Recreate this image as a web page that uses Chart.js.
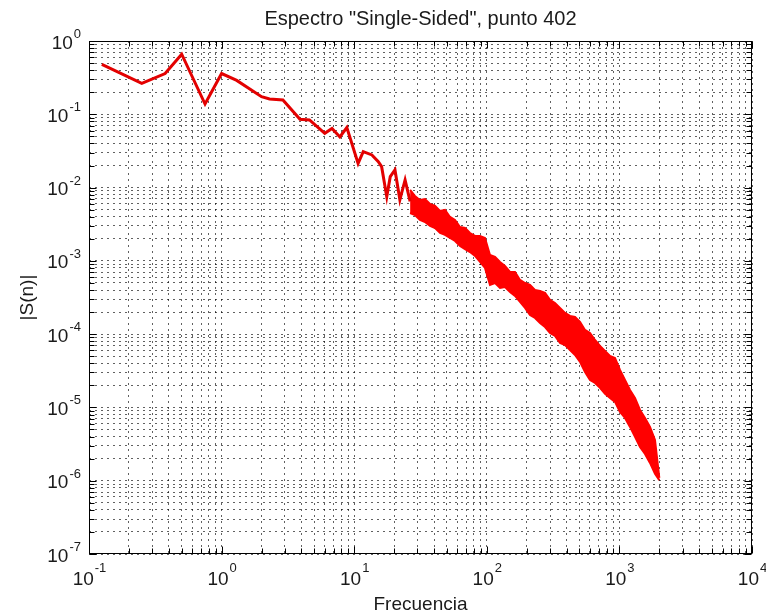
<!DOCTYPE html>
<html lang="es">
<head>
<meta charset="UTF-8">
<title>Espectro Single-Sided, punto 402</title>
<script src="https://cdn.jsdelivr.net/npm/chart.js"></script>
<style>
  html, body { margin: 0; padding: 0; background: #fff; }
  .chart-wrapper { width: 766px; height: 616px; }
</style>
</head>
<body>
<div class="chart-wrapper">
  <canvas id="espectroChart"></canvas>
</div>
<script>
// Tramo de baja frecuencia (línea simple)
const freqLinea = [0.125, 0.25, 0.375, 0.5, 0.75, 1.0, 1.3, 2.0, 2.3, 2.9, 3.9, 4.6, 6.0, 6.8, 7.8, 8.8,
  10.7, 11.7, 13.6, 15.2, 16.1, 17.6, 18.7, 20.3, 22.1, 24.2, 26.4];
const magLinea = [0.48, 0.265, 0.36, 0.66, 0.138, 0.36, 0.29, 0.174, 0.162, 0.157, 0.0855, 0.0836, 0.055, 0.064, 0.049, 0.066,
  0.0214, 0.031, 0.0279, 0.0226, 0.0193, 0.0075, 0.0141, 0.0174, 0.0068, 0.0127, 0.0065];

// Tramo ruidoso: envolvente superior e inferior de la banda
const freqBanda = [26.4, 28.7, 31.3, 34.2, 37.3, 40.7, 44.4, 48.4, 52.8, 57.6, 62.8, 68.5, 74.7, 81.5, 88.9, 96.9,
  105.7, 115.3, 125.8, 137.2, 149.6, 163.2, 178.0, 194.1, 211.7, 230.9, 251.9, 274.7, 299.7, 326.8, 356.5, 388.8,
  424.1, 462.6, 504.6, 550.3, 600.2, 654.6, 714.0, 778.8, 849.4, 926.5, 1010, 1102, 1202, 1311, 1430, 1560, 1701, 1855, 2000];
const bandaSup = [9.27e-3, 7.68e-3, 6.77e-3, 6.99e-3, 5.97e-3, 5.61e-3, 4.79e-3, 4.95e-3, 3.97e-3, 3.61e-3, 2.90e-3, 2.81e-3,
  2.40e-3, 2.19e-3, 2.19e-3, 2.05e-3, 1.20e-3, 1.13e-3, 9.66e-4, 8.52e-4, 7.06e-4, 7.06e-4, 5.49e-4, 4.99e-4, 4.69e-4,
  4.01e-4, 3.88e-4, 3.65e-4, 2.93e-4, 2.66e-4, 2.28e-4, 1.95e-4, 1.77e-4, 1.72e-4, 1.47e-4, 1.14e-4, 1.04e-4, 8.33e-5,
  6.90e-5, 5.90e-5, 5.04e-5, 4.73e-5, 3.25e-5, 2.37e-5, 1.73e-5, 1.35e-5, 9.24e-6, 7.19e-6, 5.42e-6, 3.60e-6, 1.09e-6];
const bandaInf = [4.50e-3, 4.23e-3, 3.61e-3, 3.39e-3, 2.99e-3, 2.81e-3, 2.40e-3, 2.26e-3, 2.05e-3, 1.87e-3, 1.60e-3, 1.45e-3,
  1.32e-3, 1.17e-3, 9.66e-4, 8.00e-4, 4.69e-4, 4.99e-4, 4.27e-4, 4.40e-4, 3.76e-4, 3.32e-4, 2.75e-4, 2.28e-4, 1.83e-4,
  1.66e-4, 1.42e-4, 1.25e-4, 1.04e-4, 9.45e-5, 7.59e-5, 7.12e-5, 6.09e-5, 5.20e-5, 4.18e-5, 3.05e-5, 2.37e-5, 2.16e-5,
  1.85e-5, 1.53e-5, 1.35e-5, 1.19e-5, 8.68e-6, 7.19e-6, 5.42e-6, 3.96e-6, 2.89e-6, 2.32e-6, 1.75e-6, 1.24e-6, 1.02e-6];

// Décadas de los ejes y sus exponentes (etiquetas 10^n)
const xDecadas = [0.1, 1, 10, 100, 1000, 10000];
const xExponentes = ['-1', '0', '1', '2', '3', '4'];
const yDecadas = [1e-7, 1e-6, 1e-5, 1e-4, 1e-3, 1e-2, 1e-1, 1];
const yExponentes = ['-7', '-6', '-5', '-4', '-3', '-2', '-1', '0'];

const fuente = "'Liberation Sans', Arial, sans-serif";
const rojo = '#ff0000';

// ticks 1..9 en cada década
function ticksLog(decadas) {
  const ticks = [];
  decadas.forEach((d, i) => {
    ticks.push({ value: d, major: true });
    if (i < decadas.length - 1) {
      for (let m = 2; m <= 9; m++) ticks.push({ value: m * d, major: false });
    }
  });
  return ticks;
}

const ejesMatlab = {
  id: 'ejesMatlab',
  beforeDraw(chart) {
    const ctx = chart.ctx;
    ctx.save();
    ctx.fillStyle = '#fff';
    ctx.fillRect(0, 0, chart.width, chart.height);
    ctx.restore();
  },
  afterDraw(chart) {
    const { ctx, chartArea: a, scales: { x, y } } = chart;
    const L = Math.round(a.left) + 0.5, R = Math.round(a.right) - 0.5;
    const T = Math.round(a.top) + 0.5, B = Math.round(a.bottom) - 0.5;
    ctx.save();
    ctx.strokeStyle = '#000';
    ctx.lineWidth = 1;
    ctx.setLineDash([]);
    ctx.strokeRect(L, T, R - L, B - T);

    // marcas hacia dentro en los cuatro lados
    ctx.beginPath();
    x.ticks.forEach(t => {
      const px = Math.round(x.getPixelForValue(t.value)) + 0.5;
      const len = t.major ? 7 : 5;
      ctx.moveTo(px, B); ctx.lineTo(px, B - len);
      ctx.moveTo(px, T); ctx.lineTo(px, T + len);
    });
    y.ticks.forEach(t => {
      const py = Math.round(y.getPixelForValue(t.value)) + 0.5;
      const len = t.major ? 7 : 5;
      ctx.moveTo(L, py); ctx.lineTo(L + len, py);
      ctx.moveTo(R, py); ctx.lineTo(R - len, py);
    });
    ctx.stroke();

    ctx.fillStyle = '#1a1a1a';
    const base = '19px ' + fuente, sup = '13px ' + fuente;

    // etiquetas eje x: 10^n centradas en la marca
    xDecadas.forEach((d, i) => {
      const px = x.getPixelForValue(d);
      ctx.font = base;
      const w1 = ctx.measureText('10').width;
      ctx.font = sup;
      const w2 = ctx.measureText(xExponentes[i]).width;
      const x0 = px - (w1 + w2) / 2;
      ctx.textAlign = 'left';
      ctx.textBaseline = 'alphabetic';
      ctx.font = base;
      ctx.fillText('10', x0, 585);
      ctx.font = sup;
      ctx.fillText(xExponentes[i], x0 + w1 + 1, 572);
    });

    // etiquetas eje y: alineadas a la derecha
    yDecadas.forEach((d, i) => {
      const py = y.getPixelForValue(d);
      ctx.font = sup;
      const w2 = ctx.measureText(yExponentes[i]).width;
      ctx.textAlign = 'right';
      ctx.textBaseline = 'alphabetic';
      ctx.fillText(yExponentes[i], 81, py - 3);
      ctx.font = base;
      ctx.fillText('10', 81 - w2 - 1, py + 7.5);
    });

    // título y nombres de ejes
    ctx.textAlign = 'center';
    ctx.textBaseline = 'alphabetic';
    ctx.font = '20px ' + fuente;
    ctx.fillText('Espectro "Single-Sided", punto 402', (a.left + a.right) / 2, 25);
    ctx.font = '19px ' + fuente;
    ctx.fillText('Frecuencia', (a.left + a.right) / 2, 610);
    ctx.save();
    ctx.translate(28, (a.top + a.bottom) / 2);
    ctx.rotate(-Math.PI / 2);
    ctx.textBaseline = 'middle';
    ctx.fillText('|S(n)|', 0, 0);
    ctx.restore();
    ctx.restore();
  }
};

const puntos = (xs, ys) => xs.map((v, i) => ({ x: v, y: ys[i] }));

const rejilla = {
  color: 'rgba(0,0,0,0.62)',
  lineWidth: 1,
  drawTicks: false
};

const ctx = document.getElementById('espectroChart').getContext('2d');
new Chart(ctx, {
  type: 'line',
  data: {
    datasets: [
      {
        label: '|S(n)|',
        data: puntos(freqLinea, magLinea),
        borderColor: '#e30000',
        borderWidth: 3,
        pointRadius: 0,
        tension: 0,
        fill: false
      },
      {
        label: 'sup',
        data: puntos(freqBanda, bandaSup),
        borderColor: rojo,
        backgroundColor: rojo,
        borderWidth: 2,
        pointRadius: 0,
        tension: 0,
        fill: '+1'
      },
      {
        label: 'inf',
        data: puntos(freqBanda, bandaInf),
        borderColor: rojo,
        borderWidth: 2,
        pointRadius: 0,
        tension: 0,
        fill: false
      }
    ]
  },
  options: {
    responsive: true,
    maintainAspectRatio: false,
    animation: false,
    devicePixelRatio: 1,
    layout: { padding: { left: 89, right: 14, top: 41, bottom: 62 } },
    plugins: {
      legend: { display: false },
      tooltip: { enabled: false },
      title: { display: false }
    },
    scales: {
      x: {
        type: 'logarithmic',
        min: 0.1,
        max: 10000,
        afterBuildTicks: scale => { scale.ticks = ticksLog(xDecadas); },
        ticks: { display: false },
        grid: rejilla,
        border: { display: false, dash: [2, 4] }
      },
      y: {
        type: 'logarithmic',
        min: 1e-7,
        max: 1,
        afterBuildTicks: scale => { scale.ticks = ticksLog(yDecadas); },
        ticks: { display: false },
        grid: rejilla,
        border: { display: false, dash: [2, 4] }
      }
    }
  },
  plugins: [ejesMatlab]
});
</script>
</body>
</html>
